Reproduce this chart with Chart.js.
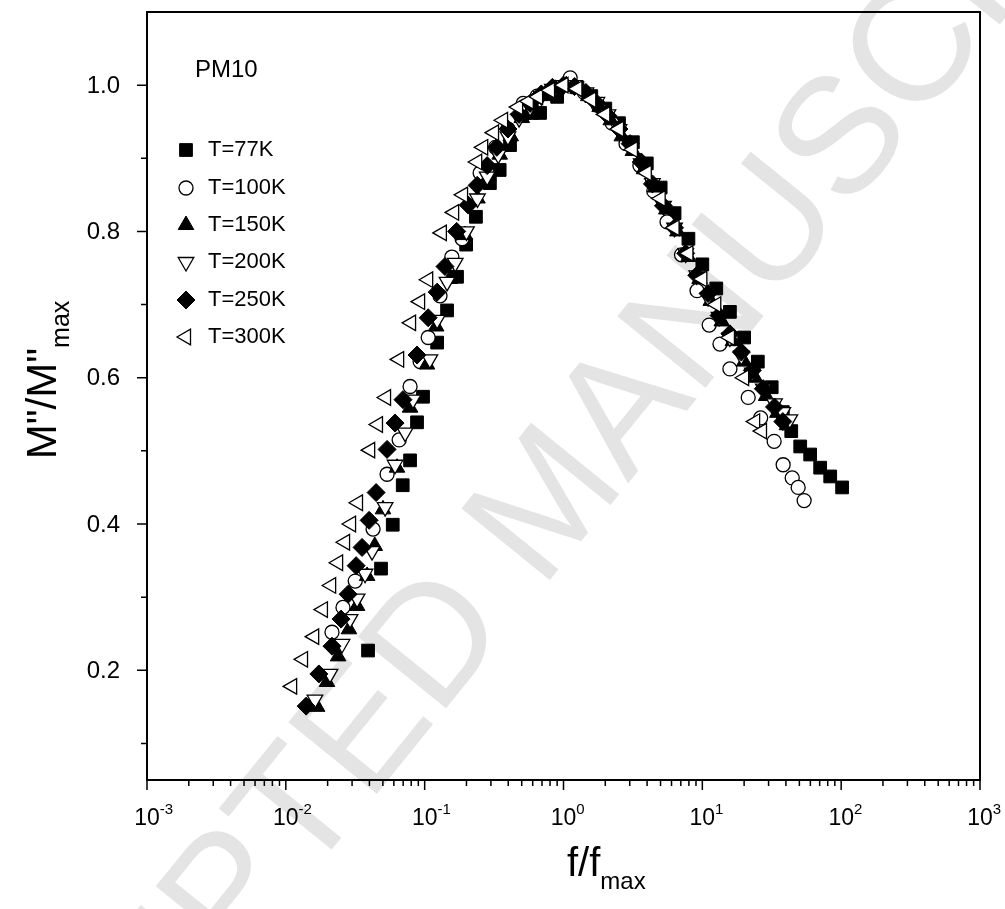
<!DOCTYPE html>
<html>
<head>
<meta charset="utf-8">
<title>PM10 M''/M''max vs f/fmax</title>
<script src="https://cdn.jsdelivr.net/npm/chart.js"></script>
<style>
  html, body { margin: 0; padding: 0; background: #fff; }
  #wrap { width: 1005px; height: 909px; }
</style>
</head>
<body>
<div id="wrap"><canvas id="modulusChart" width="1005" height="909"></canvas></div>
<script>
// values (f/fmax, M''/M''max)
const seriesLabels = ["T=77K", "T=100K", "T=150K", "T=200K", "T=250K", "T=300K"];

const x77 = [0.0391, 0.0485, 0.0589, 0.0695, 0.0785, 0.0881, 0.0973, 0.123, 0.145, 0.171, 0.199, 0.234, 0.295, 0.347, 0.412, 0.528, 0.594, 0.678, 0.900, 1.07, 1.26, 1.585, 2.0, 2.51, 3.16, 3.98, 5.01, 6.31, 7.94, 10.0, 12.6, 15.8, 20.0, 25.1, 31.6, 38.0, 43.7, 50.7, 59.8, 70.6, 83.4, 101.6];
const y77 = [0.227, 0.339, 0.399, 0.453, 0.487, 0.539, 0.574, 0.648, 0.692, 0.738, 0.782, 0.820, 0.866, 0.884, 0.918, 0.962, 0.962, 0.962, 0.984, 1.000, 0.997, 0.985, 0.968, 0.948, 0.922, 0.893, 0.860, 0.825, 0.790, 0.755, 0.722, 0.690, 0.655, 0.622, 0.587, 0.553, 0.527, 0.506, 0.495, 0.477, 0.465, 0.450];

const x100 = [0.0215, 0.0258, 0.0316, 0.0425, 0.0536, 0.0655, 0.0785, 0.0927, 0.106, 0.129, 0.157, 0.186, 0.251, 0.324, 0.398, 0.512, 0.646, 0.832, 1.117, 1.41, 1.78, 2.24, 2.82, 3.55, 4.47, 5.57, 7.08, 9.16, 11.2, 13.4, 15.8, 21.4, 26.3, 32.9, 38.2, 44.4, 49.0, 54.1];
const y100 = [0.252, 0.286, 0.322, 0.393, 0.468, 0.515, 0.588, 0.622, 0.655, 0.712, 0.765, 0.790, 0.880, 0.915, 0.940, 0.975, 0.985, 0.995, 1.010, 0.990, 0.972, 0.948, 0.920, 0.890, 0.855, 0.813, 0.768, 0.719, 0.672, 0.646, 0.612, 0.573, 0.545, 0.513, 0.481, 0.463, 0.450, 0.432];

const x150 = [0.0168, 0.0198, 0.0238, 0.0285, 0.0326, 0.0385, 0.0437, 0.0501, 0.0632, 0.0785, 0.104, 0.121, 0.152, 0.195, 0.240, 0.288, 0.347, 0.417, 0.501, 0.603, 0.724, 0.871, 1.047, 1.26, 1.51, 1.82, 2.19, 2.63, 3.16, 3.80, 4.57, 5.50, 6.61, 7.94, 9.55, 11.5, 13.8, 16.6, 20.0, 24.0, 28.8, 34.7, 40.7];
const y150 = [0.150, 0.184, 0.219, 0.256, 0.288, 0.329, 0.370, 0.420, 0.477, 0.559, 0.618, 0.670, 0.735, 0.795, 0.845, 0.875, 0.905, 0.930, 0.955, 0.972, 0.985, 0.995, 1.000, 0.995, 0.985, 0.970, 0.952, 0.930, 0.910, 0.885, 0.860, 0.830, 0.800, 0.765, 0.735, 0.705, 0.677, 0.650, 0.622, 0.600, 0.575, 0.552, 0.535];

const x200 = [0.0162, 0.0208, 0.0254, 0.0290, 0.0326, 0.0372, 0.0418, 0.0519, 0.0612, 0.0723, 0.0824, 0.109, 0.123, 0.145, 0.166, 0.200, 0.240, 0.282, 0.339, 0.398, 0.479, 0.575, 0.692, 0.832, 1.00, 1.20, 1.45, 1.74, 2.09, 2.51, 3.02, 3.63, 4.37, 5.25, 6.31, 7.59, 9.12, 11.0, 13.2, 15.8, 19.1, 22.9, 27.5, 33.1, 38.0, 42.7];
const y200 = [0.160, 0.195, 0.236, 0.270, 0.298, 0.332, 0.363, 0.423, 0.481, 0.525, 0.570, 0.625, 0.679, 0.731, 0.757, 0.800, 0.845, 0.875, 0.905, 0.930, 0.955, 0.970, 0.985, 0.995, 1.000, 1.000, 0.990, 0.977, 0.960, 0.940, 0.918, 0.893, 0.866, 0.835, 0.805, 0.770, 0.740, 0.710, 0.683, 0.655, 0.630, 0.607, 0.585, 0.565, 0.553, 0.543];

const x250 = [0.0140, 0.0173, 0.0215, 0.0250, 0.0281, 0.0321, 0.0354, 0.0398, 0.0447, 0.0536, 0.0612, 0.0698, 0.0881, 0.106, 0.123, 0.140, 0.170, 0.206, 0.239, 0.282, 0.331, 0.398, 0.479, 0.575, 0.692, 0.832, 1.00, 1.20, 1.45, 1.74, 2.09, 2.51, 3.02, 3.63, 4.37, 5.25, 6.31, 7.59, 9.12, 11.0, 13.2, 15.8, 19.1, 22.9, 27.5, 33.1, 38.0];
const y250 = [0.151, 0.195, 0.233, 0.270, 0.304, 0.343, 0.368, 0.405, 0.443, 0.502, 0.538, 0.570, 0.631, 0.682, 0.717, 0.752, 0.800, 0.836, 0.863, 0.890, 0.915, 0.940, 0.960, 0.975, 0.988, 0.997, 1.000, 0.998, 0.990, 0.975, 0.958, 0.940, 0.920, 0.895, 0.865, 0.835, 0.805, 0.770, 0.740, 0.715, 0.685, 0.660, 0.635, 0.610, 0.585, 0.560, 0.540];

const x300 = [0.0111, 0.0133, 0.0160, 0.0185, 0.0212, 0.0238, 0.0267, 0.0295, 0.0331, 0.0405, 0.0461, 0.0527, 0.0655, 0.0798, 0.0927, 0.106, 0.133, 0.163, 0.189, 0.239, 0.264, 0.316, 0.367, 0.471, 0.562, 0.656, 0.800, 1.00, 1.26, 1.585, 2.00, 2.51, 3.16, 3.98, 5.01, 6.31, 7.94, 10.0, 12.6, 15.8, 20.0, 24.0, 26.9];
const y300 = [0.178, 0.215, 0.246, 0.283, 0.316, 0.347, 0.375, 0.400, 0.429, 0.501, 0.536, 0.573, 0.625, 0.675, 0.704, 0.734, 0.798, 0.826, 0.850, 0.895, 0.915, 0.935, 0.952, 0.970, 0.978, 0.984, 0.993, 1.000, 0.995, 0.980, 0.960, 0.940, 0.912, 0.880, 0.845, 0.805, 0.770, 0.735, 0.700, 0.655, 0.600, 0.540, 0.527];

// axis ticks
const xTickExponents = [-3, -2, -1, 0, 1, 2, 3];
const yTickLabels = ["0.2", "0.4", "0.6", "0.8", "1.0"];
const yMinorTicks = [0.1, 0.3, 0.5, 0.7, 0.9];

const FONT = '"Liberation Sans", Arial, Helvetica, sans-serif';

function toPoints(xs, ys) {
  return xs.map((x, i) => ({ x: x, y: ys[i] }));
}

// marker look per series, Origin-like
const markers = [
  { pointStyle: "rect", radius: 9, rotation: 0, fill: "#000" },
  { pointStyle: "circle", radius: 7, rotation: 0, fill: "#fff" },
  { pointStyle: "triangle", radius: 9, rotation: 0, fill: "#000" },
  { pointStyle: "triangle", radius: 9, rotation: 180, fill: "#fff" },
  { pointStyle: "rectRot", radius: 9, rotation: 0, fill: "#000" },
  { pointStyle: "triangle", radius: 9, rotation: 270, fill: "#fff" }
];

const allX = [x77, x100, x150, x200, x250, x300];
const allY = [y77, y100, y150, y200, y250, y300];

const datasets = seriesLabels.map((label, i) => ({
  label: label,
  data: toPoints(allX[i], allY[i]),
  showLine: false,
  pointStyle: markers[i].pointStyle,
  pointRadius: markers[i].radius,
  pointRotation: markers[i].rotation,
  pointBackgroundColor: markers[i].fill,
  pointBorderColor: "#000",
  pointBorderWidth: markers[i].fill === "#fff" ? 1.3 : 1,
  order: seriesLabels.length - i // later series painted on top
}));

function drawScriptText(ctx, parts, x, y) {
  // parts: [{text, size, dy}] drawn left to right from x on baseline y
  let cx = x;
  parts.forEach(p => {
    ctx.font = p.size + "px " + FONT;
    ctx.fillText(p.text, cx, y + (p.dy || 0));
    cx += ctx.measureText(p.text).width;
  });
}

function scriptWidth(ctx, parts) {
  let w = 0;
  parts.forEach(p => {
    ctx.font = p.size + "px " + FONT;
    w += ctx.measureText(p.text).width;
  });
  return w;
}

const decorPlugin = {
  id: "decor",
  beforeDraw(chart) {
    const ctx = chart.ctx;
    ctx.save();
    ctx.fillStyle = "#fff";
    ctx.fillRect(0, 0, chart.width, chart.height);
    // publisher watermark
    ctx.translate(552, 505);
    ctx.rotate(-51 * Math.PI / 180);
    ctx.font = "165px " + FONT;
    ctx.fillStyle = "rgb(228,228,228)";
    ctx.textAlign = "center";
    ctx.textBaseline = "middle";
    ctx.fillText("ACCEPTED MANUSCRIPT", 0, 0);
    ctx.restore();
  },
  afterDraw(chart) {
    const ctx = chart.ctx;
    const a = chart.chartArea;
    const xs = chart.scales.x;
    const ys = chart.scales.y;
    ctx.save();
    ctx.strokeStyle = "#000";
    ctx.fillStyle = "#000";
    ctx.lineWidth = 2;
    ctx.strokeRect(a.left, a.top, a.right - a.left, a.bottom - a.top);

    // tick marks, pointing out
    ctx.lineWidth = 1.5;
    ctx.beginPath();
    xs.ticks.forEach(t => {
      const px = xs.getPixelForValue(t.value);
      const len = t.major ? 10 : 6;
      ctx.moveTo(px, a.bottom);
      ctx.lineTo(px, a.bottom + len);
    });
    ys.ticks.forEach(t => {
      const py = ys.getPixelForValue(t.value);
      const len = t.major ? 10 : 6;
      ctx.moveTo(a.left, py);
      ctx.lineTo(a.left - len, py);
    });
    ctx.stroke();

    // y tick labels
    ctx.font = "24px " + FONT;
    ctx.textAlign = "right";
    ctx.textBaseline = "middle";
    yTickLabels.forEach(l => {
      ctx.fillText(l, a.left - 27, ys.getPixelForValue(parseFloat(l)) + 1);
    });

    // x tick labels 10^n, "10" centred on the tick
    ctx.textAlign = "left";
    ctx.textBaseline = "alphabetic";
    xTickExponents.forEach(e => {
      const px = xs.getPixelForValue(Math.pow(10, e));
      const parts = [{ text: "10", size: 23 }, { text: String(e), size: 15, dy: -11 }];
      ctx.font = "23px " + FONT;
      const wb = ctx.measureText("10").width;
      drawScriptText(ctx, parts, px - wb / 2, a.bottom + 45);
    });

    // x title f/fmax
    const xt = [{ text: "f/f", size: 40 }, { text: "max", size: 24, dy: 13 }];
    drawScriptText(ctx, xt, 567, 876);

    // y title M"/M"max
    const yt = [{ text: 'M"/M"', size: 42 }, { text: "max", size: 25, dy: 13 }];
    ctx.save();
    ctx.translate(56, 380);
    ctx.rotate(-Math.PI / 2);
    drawScriptText(ctx, yt, -scriptWidth(ctx, yt) / 2, 0);
    ctx.restore();

    // sample name and legend
    ctx.textBaseline = "middle";
    ctx.font = "24px " + FONT;
    ctx.fillText("PM10", 195, 70);
    const rowY = [150, 188, 225, 262, 300, 337];
    seriesLabels.forEach((label, i) => {
      const m = markers[i];
      ctx.fillStyle = m.fill;
      ctx.strokeStyle = "#000";
      ctx.lineWidth = m.fill === "#fff" ? 1.3 : 1;
      Chart.helpers.drawPoint(ctx, {
        pointStyle: m.pointStyle, radius: m.radius, rotation: m.rotation, borderWidth: ctx.lineWidth
      }, 186, rowY[i]);
      ctx.fillStyle = "#000";
      ctx.font = "22px " + FONT;
      ctx.fillText(label, 208, rowY[i]);
    });
    ctx.restore();
  }
};

const ctx = document.getElementById("modulusChart").getContext("2d");
new Chart(ctx, {
  type: "scatter",
  data: { datasets: datasets },
  options: {
    responsive: false,
    animation: false,
    events: [],
    layout: { padding: { top: 12, right: 25, left: 0, bottom: 0 } },
    plugins: { legend: { display: false }, tooltip: { enabled: false } },
    scales: {
      x: {
        type: "logarithmic",
        min: 0.001,
        max: 1000,
        grid: { display: false },
        border: { display: false },
        ticks: { display: false },
        afterBuildTicks: scale => {
          const ticks = [];
          xTickExponents.forEach(e => {
            for (let m = 1; m <= 9; m++) {
              if (e === 3 && m > 1) break;
              ticks.push({ value: Number((m * Math.pow(10, e)).toPrecision(3)), major: m === 1 });
            }
          });
          scale.ticks = ticks;
        },
        afterFit: scale => { scale.height = 129; }
      },
      y: {
        min: 0.05,
        max: 1.1,
        grid: { display: false },
        border: { display: false },
        ticks: { display: false },
        afterBuildTicks: scale => {
          const ticks = yTickLabels.map(l => ({ value: parseFloat(l), major: true }));
          yMinorTicks.forEach(v => ticks.push({ value: v, major: false }));
          scale.ticks = ticks;
        },
        afterFit: scale => { scale.width = 147; }
      }
    }
  },
  plugins: [decorPlugin]
});
</script>
</body>
</html>
